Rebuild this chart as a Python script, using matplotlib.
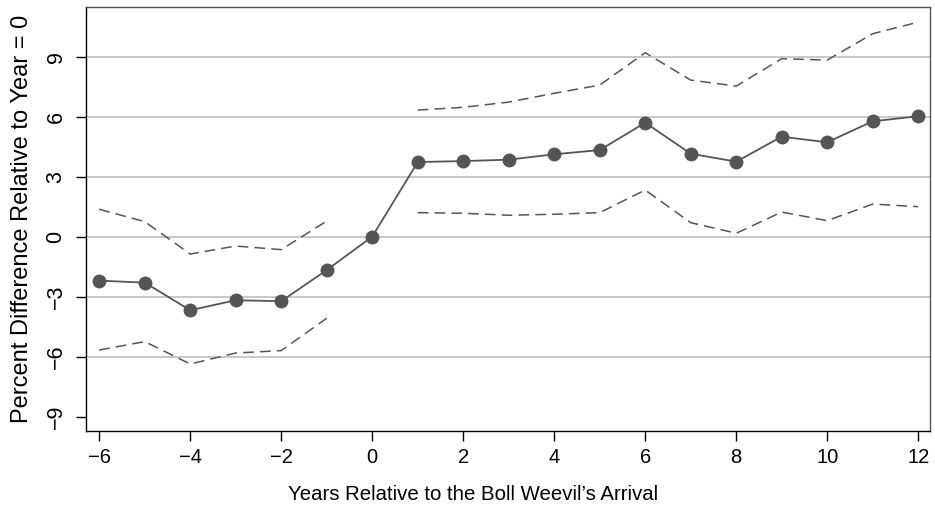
import matplotlib
matplotlib.use("Agg")
import matplotlib.pyplot as plt

plt.rcParams['font.family'] = ['Liberation Sans', 'DejaVu Sans']

years = [-6, -5, -4, -3, -2, -1, 0, 1, 2, 3, 4, 5, 6, 7, 8, 9, 10, 11, 12]
estimate = [-2.2, -2.3, -3.68, -3.18, -3.23, -1.67, 0.0, 3.73, 3.78, 3.85, 4.12, 4.33,
            5.7, 4.15, 3.75, 5.0, 4.72, 5.77, 6.02]

pre_years = [-6, -5, -4, -3, -2, -1]
pre_upper = [1.37, 0.75, -0.87, -0.47, -0.65, 0.78]
pre_lower = [-5.67, -5.25, -6.37, -5.82, -5.7, -4.08]

post_years = [1, 2, 3, 4, 5, 6, 7, 8, 9, 10, 11, 12]
post_upper = [6.33, 6.47, 6.73, 7.17, 7.58, 9.2, 7.83, 7.53, 8.9, 8.83, 10.15, 10.73]
post_lower = [1.2, 1.17, 1.07, 1.12, 1.2, 2.33, 0.7, 0.17, 1.23, 0.8, 1.63, 1.5]

xticks = [-6, -4, -2, 0, 2, 4, 6, 8, 10, 12]
yticks = [-9, -6, -3, 0, 3, 6, 9]
grid_y = [-6, -3, 0, 3, 6, 9]

col = '#555555'
fig = plt.figure(figsize=(9.35, 5.08), dpi=100)
ax = fig.add_axes([0.092, 0.1516, 0.9027, 0.834])

for g in grid_y:
    ax.axhline(g, color='#c4c4c4', lw=1.3, zorder=0)

ax.plot(years, estimate, color=col, lw=1.3, marker='o', markersize=9, zorder=3)
dash = (0, (7, 4))
ax.plot(pre_years, pre_upper, color=col, lw=1.1, linestyle=dash)
ax.plot(pre_years, pre_lower, color=col, lw=1.1, linestyle=dash)
ax.plot(post_years, post_upper, color=col, lw=1.1, linestyle=dash)
ax.plot(post_years, post_lower, color=col, lw=1.1, linestyle=dash)

ax.set_xlim(-6.29, 12.26)
ax.set_ylim(-9.72, 11.47)
ax.set_xticks(xticks)
ax.set_xticklabels([str(t).replace('-', '\u2212') for t in xticks], fontsize=14.5)
ax.set_yticks(yticks)
ax.set_yticklabels([str(t).replace('-', '\u2212') for t in yticks], rotation=90, va='center',
                   fontsize=15.5)
ax.tick_params(axis='both', direction='out', length=7, width=1, color='black')
ax.tick_params(axis='y', pad=7)
ax.tick_params(axis='x', pad=5)

for s in ['left', 'bottom']:
    ax.spines[s].set_color('black')
    ax.spines[s].set_linewidth(1.0)
for s in ['top', 'right']:
    ax.spines[s].set_color('#555555')
    ax.spines[s].set_linewidth(1.0)

ax.set_xlabel("Years Relative to the Boll Weevil\u2019s Arrival", fontsize=14.7)
ax.xaxis.set_label_coords(0.4585, -0.128)
ax.set_ylabel("Percent Difference Relative to Year = 0", fontsize=17, labelpad=9)

fig.savefig('out.png', dpi=100)
